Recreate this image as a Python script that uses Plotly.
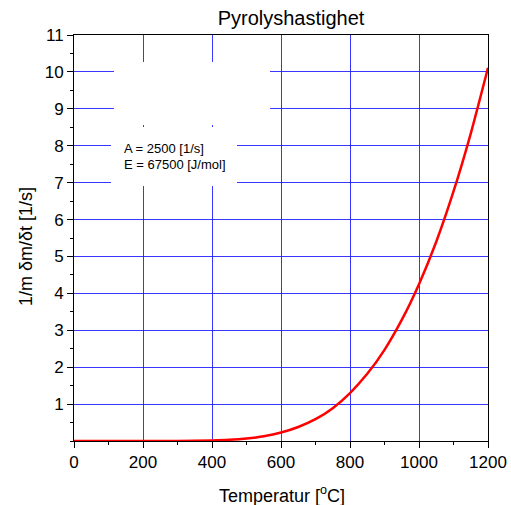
import plotly.graph_objects as go

# Pyrolysis rate vs temperature
temp_c = [0, 100, 200, 300, 400, 450, 500, 550, 600, 650, 700, 750, 800,
          850, 900, 950, 1000, 1050, 1100, 1150, 1200]
rate = [0.0, 0.0, 0.0, 0.001, 0.015, 0.033, 0.069, 0.13, 0.23, 0.38, 0.59,
        0.89, 1.30, 1.82, 2.47, 3.28, 4.25, 5.40, 6.76, 8.33, 10.11]

y_ticks = [1, 2, 3, 4, 5, 6, 7, 8, 9, 10, 11]
x_ticks = [0, 200, 400, 600, 800, 1000, 1200]

param_lines = ["A = 2500 [1/s]", "E = 67500 [J/mol]"]

font = "Liberation Sans, Arial, sans-serif"
grid_col = "rgba(20,20,255,0.85)"

# plot area in pixels
L, R, T, B = 74, 488, 35, 441
W, H = R - L, B - T


def px(x):
    return (x - L) / W


def py(y):
    return (B - y) / H


fig = go.Figure()
fig.add_trace(go.Scatter(
    x=temp_c, y=rate, mode="lines",
    line=dict(color="#ff0000", width=2.5, shape="spline", smoothing=0.6),
    showlegend=False, hoverinfo="skip",
))

axis_common = dict(
    ticks="outside", ticklen=6, tickcolor="black", showline=True,
    linecolor="black", linewidth=1, mirror=True, showgrid=True,
    gridcolor=grid_col, gridwidth=1, zeroline=False, automargin=False,
    tickfont=dict(size=17),
)

annotations = [
    dict(text=line, xref="paper", yref="paper", x=px(122), y=py(148 + 16 * i),
         xanchor="left", yanchor="middle", align="left", showarrow=False,
         font=dict(size=13, family=font))
    for i, line in enumerate(param_lines)
]
annotations += [
    dict(text="Temperatur [<sup>o</sup>C]", xref="paper", yref="paper",
         x=px(282), y=py(494), xanchor="center", yanchor="middle",
         showarrow=False, font=dict(size=18, family=font)),
    dict(text="1/m δm/δt [1/s]", xref="paper", yref="paper",
         x=px(26), y=py(247), xanchor="center", yanchor="middle",
         textangle=-90, showarrow=False, font=dict(size=18, family=font)),
]

fig.update_layout(
    width=511, height=505,
    margin=dict(l=L, r=511 - R, t=T, b=505 - B),
    paper_bgcolor="white", plot_bgcolor="white",
    font=dict(family=font, color="black", size=17),
    xaxis=dict(
        range=[0, 1200], tickvals=x_ticks,
        minor=dict(tickvals=[100, 300, 500, 700, 900, 1100], ticks="outside",
                   ticklen=3, tickcolor="black", showgrid=False),
        **axis_common,
    ),
    yaxis=dict(
        range=[0, 11], tickvals=y_ticks,
        minor=dict(dtick=0.5, ticks="outside", ticklen=3,
                   tickcolor="black", showgrid=False),
        **axis_common,
    ),
    title=dict(text="Pyrolyshastighet", x=291 / 511, xanchor="center",
               y=1 - 18 / 505, yanchor="middle",
               font=dict(size=20, family=font)),
    shapes=[
        dict(type="rect", xref="paper", yref="paper", layer="above",
             x0=px(114), x1=px(270), y0=py(125), y1=py(62),
             fillcolor="white", line=dict(width=0)),
        dict(type="rect", xref="paper", yref="paper", layer="above",
             x0=px(111), x1=px(237), y0=py(186), y1=py(127),
             fillcolor="white", line=dict(width=0)),
    ],
    annotations=annotations,
)

fig.write_html("out.html")
